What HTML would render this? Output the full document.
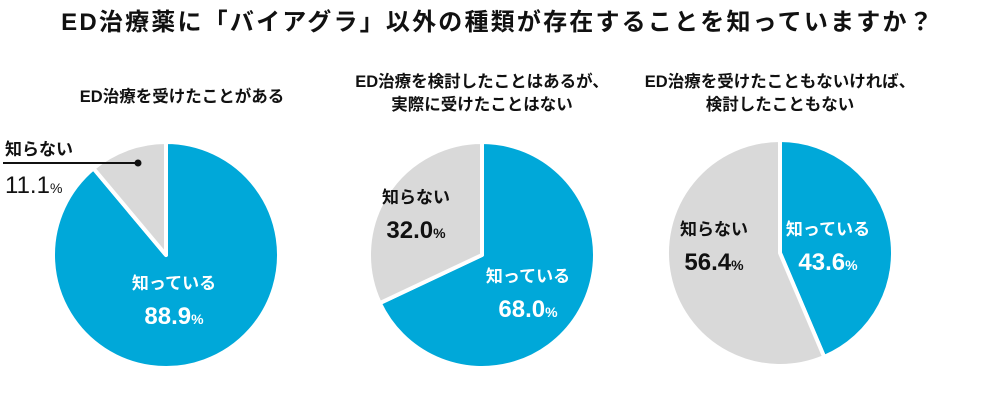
<!DOCTYPE html>
<html><head><meta charset="utf-8">
<style>
body{margin:0;background:#fff;width:1000px;height:409px;overflow:hidden;font-family:"Liberation Sans","Noto Sans CJK JP",sans-serif;}
svg text{font-family:"Liberation Sans","Noto Sans CJK JP",sans-serif;}
</style></head>
<body>
<svg id="chart" width="1000" height="409">
<text x="498" y="30" text-anchor="middle" font-size="24" font-weight="bold" fill="#111" letter-spacing="2.2">ED治療薬に「バイアグラ」以外の種類が存在することを知っていますか？</text>
<g id="pies"></g>
</svg>
<script>
const groupTitles=[["ED治療を受けたことがある"],["ED治療を検討したことはあるが、","実際に受けたことはない"],["ED治療を受けたこともないければ、","検討したこともない"]];
const knowValues=[88.9,68.0,43.6];
const categories=["知っている","知らない"];
const cxs=[166,482,780], cys=[255,255,253], R=113;
const titleXs=[182,482,780];
const titleYs=[[102],[87,110],[87,110]];
const NS="http://www.w3.org/2000/svg";
const g=document.getElementById('pies');
function mk(t,a){const e=document.createElementNS(NS,t);for(const k in a)e.setAttribute(k,a[k]);g.appendChild(e);return e;}
function pt(cx,cy,r,frac){const a=frac*2*Math.PI;return [cx+r*Math.sin(a),cy-r*Math.cos(a)];}
function arc(cx,cy,r,f0,f1){const p0=pt(cx,cy,r,f0),p1=pt(cx,cy,r,f1);const large=(f1-f0)>0.5?1:0;
return `M${cx},${cy} L${p0[0]},${p0[1]} A${r},${r} 0 ${large} 1 ${p1[0]},${p1[1]} Z`;}
knowValues.forEach((v,i)=>{
 const cx=cxs[i],cy=cys[i],f=v/100;
 groupTitles[i].forEach((t,j)=>{const e=mk('text',{x:titleXs[i],y:titleYs[i][j],'text-anchor':'middle','font-size':16.5,'font-weight':'bold',fill:'#111'});e.textContent=t;
 
 });
 const b=mk('path',{d:arc(cx,cy,R,0,f),fill:'#00a8d9',stroke:'#fff','stroke-width':4,'stroke-linejoin':'round'});
 
 
 const gr=mk('path',{d:arc(cx,cy,R,f,1),fill:'#d9d9d9',stroke:'#fff','stroke-width':4,'stroke-linejoin':'round'});
 
 
 const u=(100-v).toFixed(1);
 let kp,up;
 if(i===0){kp=[cx+8,cy+34];}
 else if(i===1){kp=[cx+46,cy+27];up=[cx-66,cy-52];}
 else{kp=[cx+48,cy-18];up=[cx-66,cy-18];}
 const lbl=(x,y,name,val,col,nm)=>{
  const a=mk('text',{x:x,y:y,'text-anchor':'middle','font-size':17,'font-weight':'bold',fill:col});a.textContent=name;
  
  
  const c=mk('text',{x:x,y:y+35,'text-anchor':'middle','font-size':24,'font-weight':'bold',fill:col});
  c.innerHTML=val+'<tspan font-size="14">%</tspan>';
  
  
 };
 lbl(kp[0],kp[1],categories[0],v.toFixed(1),'#fff','know-'+(i+1));
 if(i===0){
  const l=mk('line',{x1:3,y1:163,x2:137,y2:163,stroke:'#111','stroke-width':2});
  
  
  const d=mk('circle',{cx:138,cy:163,r:3.5,fill:'#111'});
  
  
  const a=mk('text',{x:5,y:155,'font-size':17,'font-weight':'bold',fill:'#111'});a.textContent=categories[1];
  
  
  const c=mk('text',{x:5,y:193,'font-size':24,fill:'#111'});c.innerHTML=u+'<tspan font-size="14">%</tspan>';
  
  
 } else lbl(up[0],up[1],categories[1],u,'#111','dontknow-'+(i+1));
});
</script>
</body></html>
